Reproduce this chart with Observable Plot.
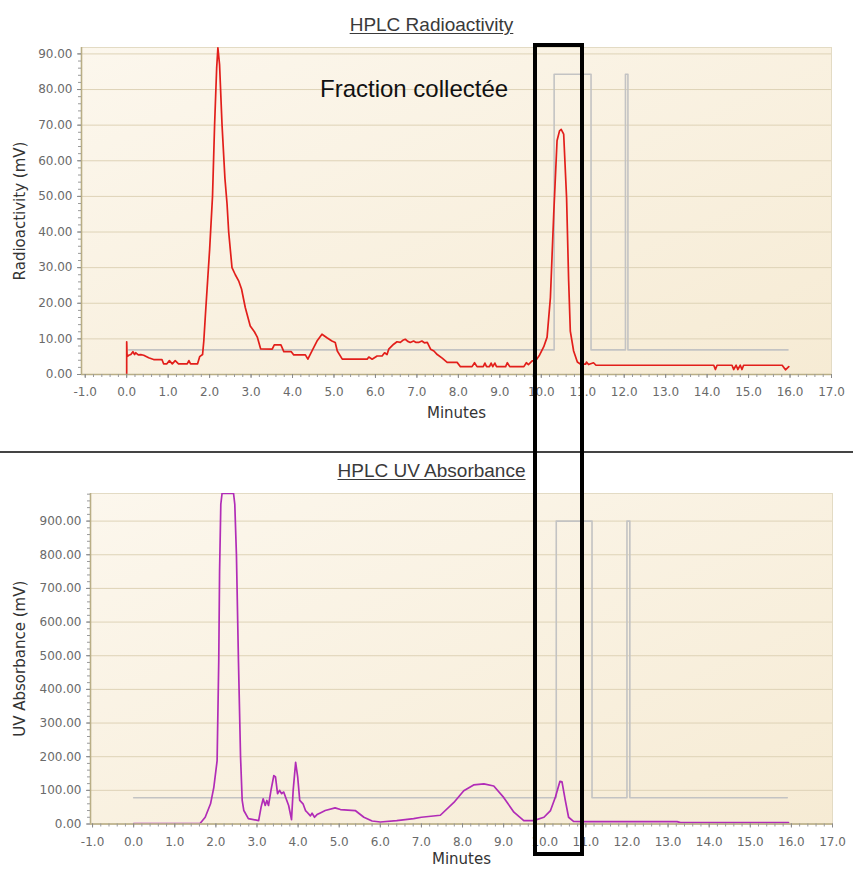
<!DOCTYPE html>
<html>
<head>
<meta charset="utf-8">
<script src="https://cdn.jsdelivr.net/npm/d3@7"></script>
<script src="https://cdn.jsdelivr.net/npm/@observablehq/plot@0.6"></script>
<style>
  body { margin: 0; background: #ffffff; }
  #page { position: relative; width: 853px; height: 870px; overflow: hidden; font-family: "Liberation Sans", Arial, sans-serif; }
  .chart { position: absolute; left: 0; }
  .title { position: absolute; left: 0; width: 863px; text-align: center; font-size: 19px; line-height: 19px; color: #3a3a3a; text-decoration: underline; text-underline-offset: 2px; z-index: 3; }
  #sep { position: absolute; left: 0; top: 451px; width: 853px; height: 2px; background: #444; z-index: 3; }
  #fraction { position: absolute; left: 320px; top: 77px; font-size: 24px; line-height: 24px; color: #111; z-index: 4; }
  #box { position: absolute; left: 533px; top: 43px; width: 51px; height: 813px; box-sizing: border-box; border: 4px solid #000; z-index: 5; }
</style>
</head>
<body>
<div id="page">
  <div class="title" style="top:15px">HPLC Radioactivity</div>
  <div id="sep"></div>
  <div class="title" style="top:461px">HPLC UV Absorbance</div>
  <div id="fraction">Fraction collectée</div>
  <div id="box"></div>
</div>
<script>
// ---------- data ----------
const xTickValues = [-1, 0, 1, 2, 3, 4, 5, 6, 7, 8, 9, 10, 11, 12, 13, 14, 15, 16, 17];
const radioTickValues = [0, 10, 20, 30, 40, 50, 60, 70, 80, 90];
const uvTickValues = [0, 100, 200, 300, 400, 500, 600, 700, 800, 900];

// Radioactivity trace (minutes, mV)
const radioTime = [0.00, 0.00, 0.01, 0.05, 0.10, 0.15, 0.19, 0.22, 0.28, 0.34, 0.41, 0.53, 0.65, 0.85, 0.89, 0.97, 1.03, 1.10, 1.17, 1.25, 1.46, 1.50, 1.54, 1.71, 1.76, 1.83, 1.86, 1.90, 1.95, 2.00, 2.07, 2.12, 2.17, 2.20, 2.24, 2.30, 2.37, 2.42, 2.46, 2.54, 2.62, 2.70, 2.77, 2.86, 2.98, 3.08, 3.15, 3.23, 3.51, 3.56, 3.72, 3.79, 3.97, 4.03, 4.31, 4.37, 4.47, 4.59, 4.71, 4.83, 4.95, 5.03, 5.08, 5.20, 5.80, 5.84, 5.92, 6.04, 6.16, 6.22, 6.28, 6.32, 6.44, 6.52, 6.60, 6.66, 6.72, 6.78, 6.84, 6.92, 6.98, 7.04, 7.12, 7.18, 7.25, 7.33, 7.41, 7.49, 7.61, 7.73, 7.97, 8.05, 8.33, 8.39, 8.45, 8.60, 8.64, 8.68, 8.75, 8.79, 8.83, 8.88, 8.92, 9.14, 9.18, 9.24, 9.58, 9.64, 9.69, 9.78, 9.86, 9.96, 10.06, 10.14, 10.22, 10.30, 10.38, 10.44, 10.48, 10.54, 10.61, 10.66, 10.70, 10.78, 10.87, 10.95, 11.07, 11.09, 11.14, 11.26, 11.32, 14.16, 14.20, 14.24, 14.60, 14.64, 14.70, 14.74, 14.80, 14.84, 14.88, 15.81, 15.89, 15.97];
const radioValue = [0, 9.2, 5.0, 5.4, 5.6, 6.4, 5.6, 6.1, 5.5, 5.6, 5.4, 4.7, 4.2, 4.2, 3.0, 3.0, 3.9, 3.0, 3.9, 3.0, 3.0, 3.9, 3.0, 3.0, 5.0, 5.6, 9.4, 17, 26, 35, 50, 70, 86, 91.7, 87, 70, 55, 48, 40, 30, 28, 26.3, 24, 18.8, 13.6, 12, 10.5, 7.2, 7.1, 8.3, 8.3, 6.4, 6.4, 5.5, 5.5, 4.3, 6.6, 9.4, 11.3, 10.3, 9.4, 9.0, 6.6, 4.3, 4.3, 4.9, 4.3, 5.2, 5.2, 6.1, 5.6, 7.1, 8.5, 9.2, 9.0, 9.6, 9.9, 9.3, 9.0, 9.4, 9.0, 9.0, 9.4, 8.9, 9.0, 7.1, 6.6, 5.6, 4.6, 3.4, 3.4, 2.2, 2.2, 3.3, 2.2, 2.2, 3.2, 2.2, 2.2, 3.2, 2.2, 3.2, 2.2, 2.2, 3.3, 2.2, 2.2, 3.3, 2.8, 3.8, 3.8, 5.5, 7.8, 10.5, 21.6, 45, 65.6, 68.4, 68.8, 67.5, 49.7, 26.3, 12.2, 6.6, 3.5, 2.9, 2.9, 3.5, 2.8, 3.3, 2.6, 2.6, 1.4, 2.6, 2.6, 1.4, 2.6, 1.4, 2.6, 1.4, 2.6, 2.6, 1.3, 2.2];

// UV trace (minutes, mV) – flat top = detector saturation at the top of the chart
const uvTime = [0.0, 0.5, 1.0, 1.5, 1.62, 1.74, 1.87, 1.95, 2.03, 2.07, 2.09, 2.12, 2.15, 2.43, 2.46, 2.50, 2.55, 2.60, 2.64, 2.68, 2.79, 3.04, 3.10, 3.15, 3.20, 3.24, 3.28, 3.34, 3.41, 3.45, 3.50, 3.55, 3.60, 3.65, 3.70, 3.77, 3.84, 3.88, 3.94, 3.99, 4.04, 4.12, 4.18, 4.22, 4.30, 4.34, 4.40, 4.46, 4.54, 4.66, 4.90, 5.03, 5.39, 5.60, 5.80, 6.00, 6.40, 6.81, 7.00, 7.46, 7.79, 8.03, 8.27, 8.52, 8.76, 9.00, 9.25, 9.49, 9.73, 9.98, 10.14, 10.26, 10.37, 10.42, 10.50, 10.58, 10.70, 11.00, 13.22, 13.30, 15.93];
const uvValue = [1, 1, 1, 1.5, 2, 20, 60, 109, 188, 486, 750, 950, 982, 982, 950, 800, 480, 200, 70, 40, 16, 10, 50, 75, 55, 70, 55, 100, 144, 140, 90, 100, 90, 95, 78, 55, 13, 100, 183, 140, 70, 60, 40, 35, 24, 32, 20, 28, 33, 40, 48, 43, 40, 20, 9, 6, 10, 16, 20, 26, 64, 99, 116, 119, 113, 79, 35, 10, 10, 20, 40, 80, 127, 125, 70, 20, 8, 7, 7, 4, 4];

// Fraction collector trace (grey)
const collectTimeRadio = [0.05, 10.31, 10.31, 11.20, 11.20, 12.03, 12.03, 12.09, 12.09, 15.95];
const collectValueRadio = [6.9, 6.9, 84.3, 84.3, 6.9, 6.9, 84.3, 84.3, 6.9, 6.9];
const collectTimeUV = [0.0, 10.28, 10.28, 11.15, 11.15, 12.00, 12.00, 12.07, 12.07, 15.90];
const collectValueUV = [78, 78, 900, 900, 78, 78, 900, 900, 78, 78];

// ---------- helpers ----------
const zip = (xs, ys) => xs.map((x, i) => ({x, y: ys[i]}));
const radio = zip(radioTime, radioValue);
const uv = zip(uvTime, uvValue);
const collectRadio = zip(collectTimeRadio, collectValueRadio);
const collectUV = zip(collectTimeUV, collectValueUV);

function addGradient(svg, id) {
  const defs = d3.select(svg).insert("defs", ":first-child");
  const g = defs.append("linearGradient").attr("id", id)
    .attr("x1", "0").attr("y1", "0").attr("x2", "1").attr("y2", "1");
  g.append("stop").attr("offset", "0%").attr("stop-color", "#fcf7ed");
  g.append("stop").attr("offset", "100%").attr("stop-color", "#f6ebd4");
}

function chart({data, collect, stroke, yDomain, xDomain, yTicks, yMinorStep, yLabel, yFormat, height, marginTop, marginBottom, marginLeft, marginRight, gradId, labelDx, labelDy}) {
  const xMinor = d3.range(-1, 17.001, 0.2);
  const yMinor = d3.range(yDomain[0], yDomain[1], yMinorStep);
  const svg = Plot.plot({
    width: 853, height, marginTop, marginBottom, marginLeft, marginRight,
    x: {domain: xDomain},
    y: {domain: yDomain},
    style: {fontFamily: "DejaVu Sans, sans-serif", fontSize: "12px", background: "transparent", overflow: "visible"},
    marks: [
      Plot.frame({fill: `url(#${gradId})`, stroke: "#e3dbc4"}),
      Plot.gridY(yTicks, {stroke: "#ded3b7", strokeOpacity: 1}),
      Plot.line(collect, {x: "x", y: "y", stroke: "#c3c3c3", strokeWidth: 1.6}),
      Plot.line(data, {x: "x", y: "y", stroke, strokeWidth: 1.7, clip: true}),
      Plot.ruleX([xDomain[0]], {stroke: "#b9ae86", strokeWidth: 1.6}),
      Plot.ruleY([yDomain[0]], {stroke: "#b9ae86", strokeWidth: 1.6}),
      Plot.axisX(xMinor, {tickSize: 3, tickFormat: () => "", stroke: "#9a9a9a", label: null}),
      Plot.axisX(xTickValues, {tickSize: 4, tickPadding: 9, tickFormat: d => d.toFixed(1), stroke: "#8a8a8a", fill: "#6a6a6a", label: null}),
      Plot.axisY(yMinor, {tickSize: 3, tickFormat: () => "", stroke: "#9a9a9a", label: null}),
      Plot.axisY(yTicks, {tickSize: 4, tickPadding: 5, tickFormat: yFormat, stroke: "#8a8a8a", fill: "#6a6a6a", label: null}),
      Plot.text([yLabel], {text: d => d, frameAnchor: "left", rotate: -90, dx: labelDx, fontSize: 15, fill: "#333", textAnchor: "middle", lineAnchor: "middle"}),
      Plot.text(["Minutes"], {text: d => d, frameAnchor: "bottom", dy: labelDy, fontSize: 15, fill: "#333", lineAnchor: "middle"})
    ]
  });
  addGradient(svg, gradId);
  return svg;
}

const page = document.getElementById("page");

const topSvg = chart({
  data: radio, collect: collectRadio, stroke: "#e21f1b",
  xDomain: [-1.09, 17], yDomain: [0, 91.8], yTicks: radioTickValues, yMinorStep: 2,
  yLabel: "Radioactivity (mV)", yFormat: d => d.toFixed(2),
  height: 452, marginTop: 47, marginBottom: 78, marginLeft: 81, marginRight: 22,
  gradId: "bgTop", labelDx: -61, labelDy: 39
});
const topWrap = document.createElement("div");
topWrap.className = "chart"; topWrap.style.top = "0px";
topWrap.appendChild(topSvg);
page.appendChild(topWrap);

const botSvg = chart({
  data: uv, collect: collectUV, stroke: "#b12cb7",
  xDomain: [-1.05, 17], yDomain: [0, 982], yTicks: uvTickValues, yMinorStep: 20,
  yLabel: "UV Absorbance (mV)", yFormat: d => d.toFixed(2),
  height: 418, marginTop: 41, marginBottom: 46.5, marginLeft: 90, marginRight: 21,
  gradId: "bgBot", labelDx: -70, labelDy: 35
});
const botWrap = document.createElement("div");
botWrap.className = "chart"; botWrap.style.top = "452px";
botWrap.appendChild(botSvg);
page.appendChild(botWrap);
</script>
</body>
</html>
